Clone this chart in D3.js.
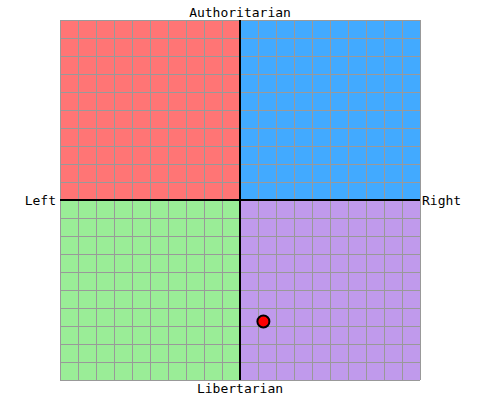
<!DOCTYPE html>
<html><head><meta charset="utf-8">
<script src="https://cdn.jsdelivr.net/npm/d3@7"></script>
<style>body{margin:0;background:#fff}</style>
</head><body>
<div id="chart"></div>
<script>
// quadrants: [xFrom, xTo, yFrom, yTo, colour]
const quadrants = [
  [-10, 0, 0, 10, "#ff7575"],
  [0, 10, 0, 10, "#42aaff"],
  [-10, 0, -10, 0, "#9aed97"],
  [0, 10, -10, 0, "#c09aec"]
];
const gridTicks = d3.range(-10, 11, 1);
const axisLabels = ["Authoritarian", "Libertarian", "Left", "Right"];
const points = [{ econ: 1.3, social: -6.75 }];

const svg = d3.select("#chart").append("svg").attr("width", 480).attr("height", 400);
const x = d3.scaleLinear().domain([-10, 10]).range([60, 420]);
const y = d3.scaleLinear().domain([-10, 10]).range([380, 20]);

svg.selectAll("rect.q").data(quadrants).enter().append("rect")
  .attr("x", d => x(d[0])).attr("width", d => x(d[1]) - x(d[0]))
  .attr("y", d => y(d[3])).attr("height", d => y(d[2]) - y(d[3]))
  .attr("fill", d => d[4]);

// grid
svg.selectAll("line.v").data(gridTicks).enter().append("line")
  .attr("x1", d => x(d) + 0.5).attr("x2", d => x(d) + 0.5)
  .attr("y1", y(10)).attr("y2", y(-10))
  .attr("stroke", "#999").attr("stroke-width", 1);
svg.selectAll("line.h").data(gridTicks).enter().append("line")
  .attr("y1", d => y(d) + 0.5).attr("y2", d => y(d) + 0.5)
  .attr("x1", x(-10)).attr("x2", x(10))
  .attr("stroke", "#999").attr("stroke-width", 1);

// centre axes
svg.append("line").attr("x1", x(0)).attr("x2", x(0)).attr("y1", y(10)).attr("y2", y(-10))
  .attr("stroke", "#000").attr("stroke-width", 2);
svg.append("line").attr("y1", y(0)).attr("y2", y(0)).attr("x1", x(-10)).attr("x2", x(10))
  .attr("stroke", "#000").attr("stroke-width", 2);

const font = "'DejaVu Sans Mono', 'Liberation Mono', monospace";
const lab = (t, px, py, anchor) => svg.append("text").text(t)
  .attr("x", px).attr("y", py).attr("text-anchor", anchor)
  .style("font-family", font).style("font-size", "13px").attr("fill", "#000");
lab(axisLabels[0], x(0), 17, "middle");
lab(axisLabels[1], x(0), 393, "middle");
lab(axisLabels[2], x(-10) - 4, y(0) + 5, "end");
lab(axisLabels[3], x(10) + 2, y(0) + 5, "start");

svg.selectAll("circle").data(points).enter().append("circle")
  .attr("cx", d => x(d.econ)).attr("cy", d => y(d.social)).attr("r", 6)
  .attr("fill", "#f00").attr("stroke", "#000").attr("stroke-width", 2);
</script>
</body></html>
